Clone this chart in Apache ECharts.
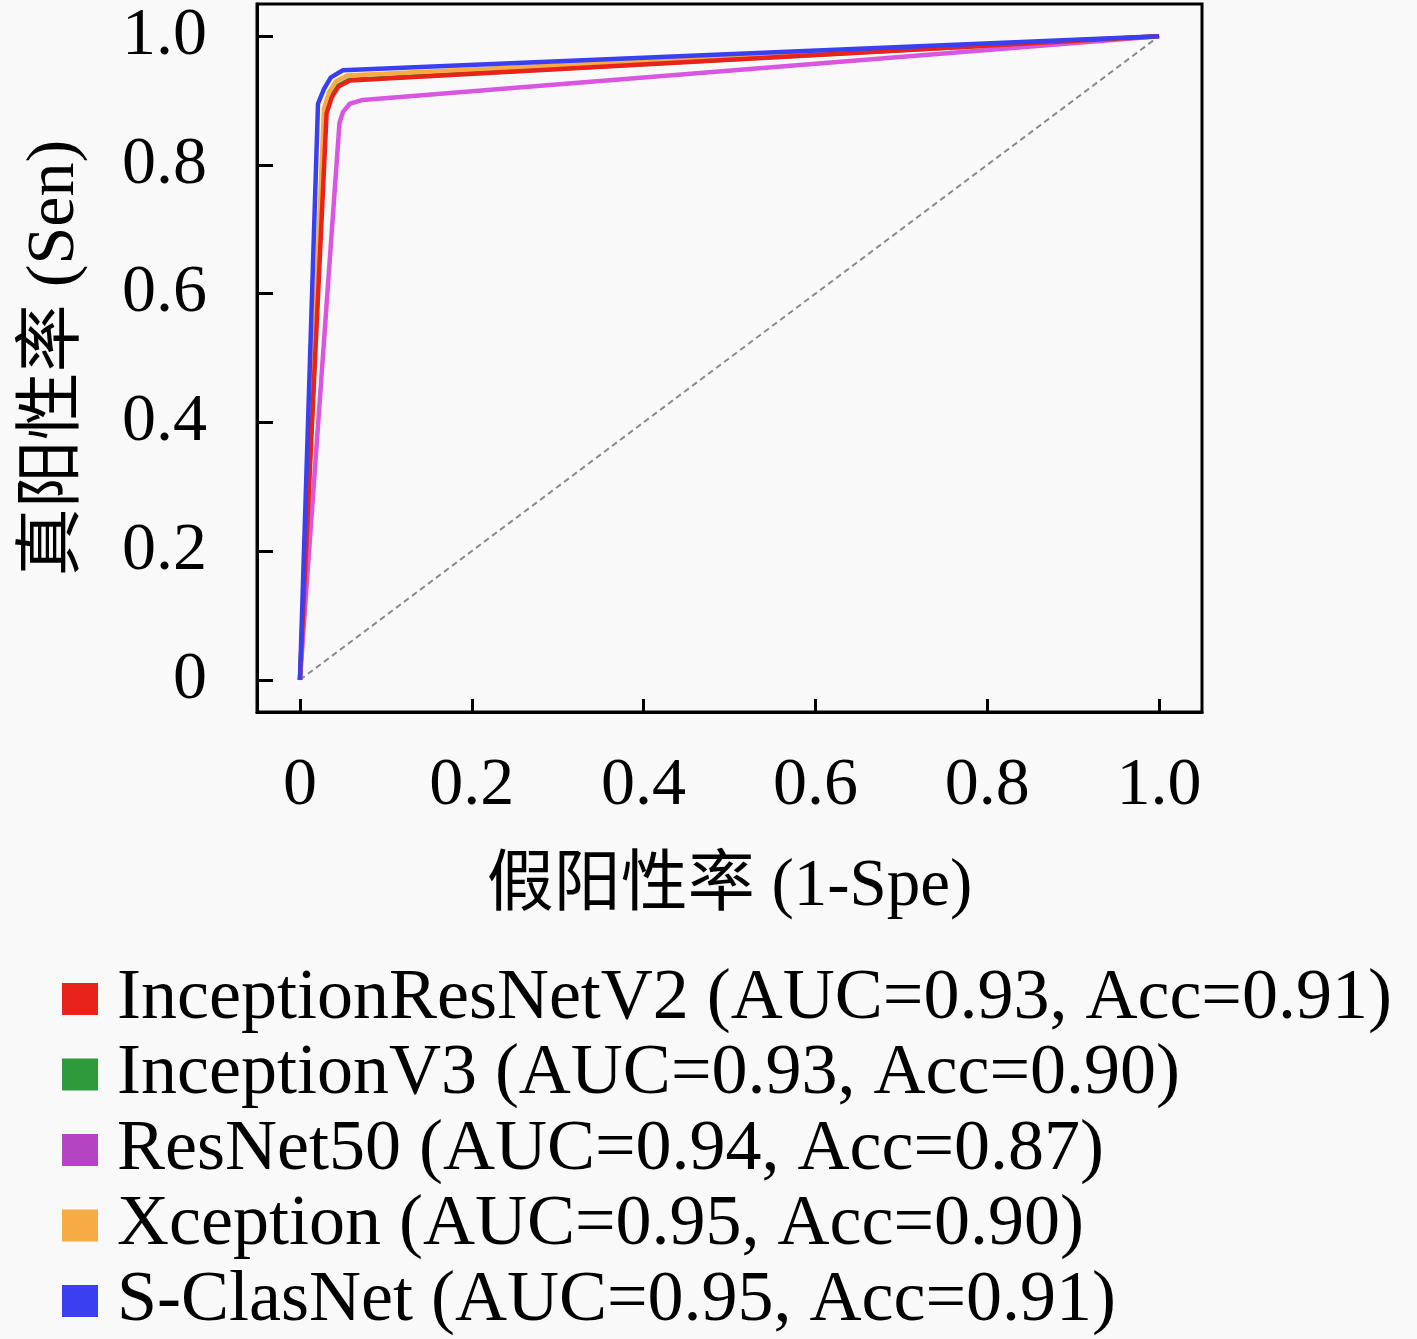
<!DOCTYPE html>
<html>
<head>
<meta charset="utf-8">
<script src="https://cdn.jsdelivr.net/npm/echarts@6/dist/echarts.min.js"></script>
<style>
html,body{margin:0;padding:0;background:#f9f9f9;}
#c{width:1417px;height:1339px;}
</style>
</head>
<body>
<div id="c"></div>
<script>
var tickValues = [0, 0.2, 0.4, 0.6, 0.8, 1.0];
var tickLabels = ['0', '0.2', '0.4', '0.6', '0.8', '1.0'];
var seriesNames = ['InceptionResNetV2', 'InceptionV3', 'ResNet50', 'Xception', 'S-ClasNet'];
var legendLabels = [
  'InceptionResNetV2 (AUC=0.93, Acc=0.91)',
  'InceptionV3 (AUC=0.93, Acc=0.90)',
  'ResNet50 (AUC=0.94, Acc=0.87)',
  'Xception (AUC=0.95, Acc=0.90)',
  'S-ClasNet (AUC=0.95, Acc=0.91)'
];
var rocInceptionResNetV2 = [[0,0],[0.031,0.88],[0.037,0.905],[0.045,0.922],[0.058,0.931],[1,1]];
var rocInceptionV3 = [[0,0],[0.030,0.882],[0.036,0.907],[0.044,0.923],[0.057,0.932],[1,1]];
var rocResNet50 = [[0,0],[0.046,0.865],[0.050,0.882],[0.058,0.895],[0.073,0.901],[1,1]];
var rocXception = [[0,0],[0.028,0.888],[0.034,0.913],[0.042,0.930],[0.055,0.939],[1,1]];
var rocSClasNet = [[0,0],[0.021,0.895],[0.028,0.918],[0.036,0.936],[0.050,0.947],[1,1]];
var diagonal = [[0,0],[1,1]];

var font = "'Liberation Serif', 'Noto Sans CJK SC', serif";
var colors = ['#e8231c', '#2f9a3c', '#d856e0', '#f7ab45', '#3a3ff2'];
var legendColors = ['#e8231c', '#2f9a3c', '#b443c2', '#f7ab45', '#3a3ff2'];
var dataSets = [rocInceptionResNetV2, rocInceptionV3, rocResNet50, rocXception, rocSClasNet];
var zOrder = [4, 2, 3, 3, 5];

var series = seriesNames.map(function (n, i) {
  return {
    name: n, type: 'line', data: dataSets[i], symbol: 'none', smooth: false,
    z: zOrder[i],
    itemStyle: {color: legendColors[i]},
    lineStyle: {color: colors[i], width: 4.5}
  };
});
series.push({
  name: 'chance', type: 'line', data: diagonal, symbol: 'none', z: 1,
  lineStyle: {color: '#8a8a8a', width: 2, type: [6, 4]}
});

function fmt(v) { var i = tickValues.indexOf(Math.round(v * 10) / 10); return i >= 0 ? tickLabels[i] : ''; }

var chart = echarts.init(document.getElementById('c'));
chart.setOption({
  backgroundColor: '#f9f9f9',
  animation: false,
  grid: {left: 257, right: 215, top: 4, bottom: 627, containLabel: false, outerBoundsMode: 'none',
    show: true, borderColor: '#000', borderWidth: 3, backgroundColor: 'transparent'},
  xAxis: {
    type: 'value', min: -0.05, max: 1.05,
    name: '假阳性率 (1-Spe)', nameLocation: 'middle', nameGap: 142,
    nameTextStyle: {fontFamily: font, fontSize: 67, color: '#000'},
    axisLine: {show: true, onZero: false, lineStyle: {color: '#000', width: 3}},
    axisTick: {show: true, inside: true, length: 13, lineStyle: {color: '#000', width: 3}, customValues: tickValues},
    axisLabel: {show: true, margin: 40, fontFamily: font, fontSize: 68, color: '#000', customValues: tickValues, formatter: fmt},
    splitLine: {show: false}
  },
  yAxis: {
    type: 'value', min: -0.05, max: 1.05,
    name: '真阳性率 (Sen)', nameLocation: 'middle', nameGap: 168,
    nameTextStyle: {fontFamily: font, fontSize: 68, color: '#000'},
    axisLine: {show: true, onZero: false, lineStyle: {color: '#000', width: 3}},
    axisTick: {show: true, inside: true, length: 16, lineStyle: {color: '#000', width: 3}, customValues: tickValues},
    axisLabel: {show: true, margin: 50, fontFamily: font, fontSize: 68, color: '#000', customValues: tickValues, formatter: fmt},
    splitLine: {show: false}
  },
  legend: {
    data: seriesNames, orient: 'vertical', left: 62, top: 963, height: 376, padding: 0,
    icon: 'rect', itemWidth: 36, itemHeight: 32, itemGap: 3.5,
    textStyle: {fontFamily: font, fontSize: 72, color: '#000', padding: [0, 0, 0, 14]},
    formatter: function (n) { return legendLabels[seriesNames.indexOf(n)]; }
  },
  series: series
});
</script>
</body>
</html>
